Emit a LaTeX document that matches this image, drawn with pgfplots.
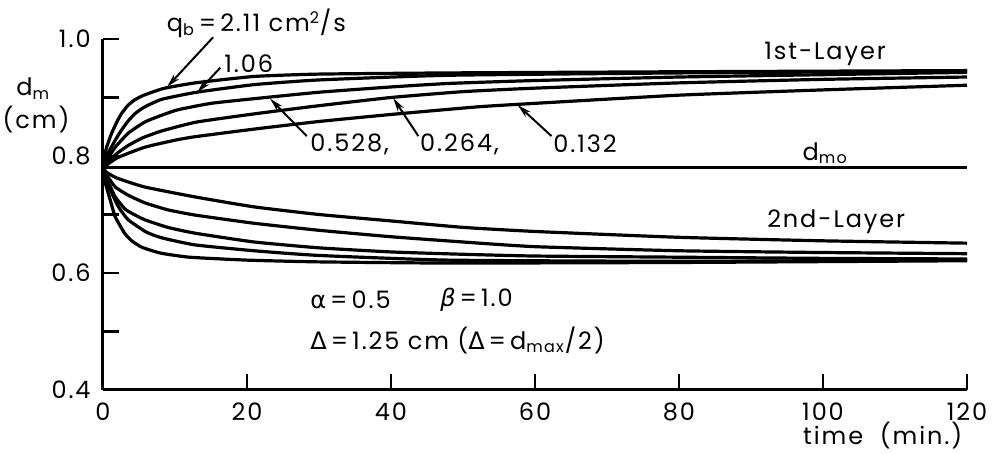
\documentclass[border=0pt]{standalone}
\usepackage{pgfplots}
\pgfplotsset{compat=1.18}
\usepackage{pgfplotstable}
\usepackage{fontspec}
\setmainfont{Poppins}[LetterSpace=8]
\newfontfamily\greek{DejaVu Sans}
\usetikzlibrary{arrows.meta}

\pgfplotstableread{
t d
0 0.78
0.2 0.798
0.5 0.815
1.2 0.839
2 0.860
2.6 0.873
3.5 0.887
4.4 0.896
5.5 0.903
6.8 0.909
8.6 0.916
12.8 0.925
21 0.936
30 0.940
48 0.942
80 0.944
120 0.946
}\Uone
\pgfplotstableread{
t d
0 0.78
0.5 0.800
1.7 0.827
2.5 0.843
3.5 0.860
4.5 0.873
5.8 0.884
8.2 0.897
13 0.909
21 0.922
30 0.930
48 0.938
80 0.942
120 0.945
}\Utwo
\pgfplotstableread{
t d
0 0.78
0.5 0.792
1.7 0.815
3.5 0.839
5.8 0.858
8 0.869
10.4 0.879
15 0.890
21 0.898
30 0.909
40 0.918
48 0.924
60 0.929
80 0.935
100 0.939
120 0.943
}\Uthree
\pgfplotstableread{
t d
0 0.78
1 0.794
2 0.805
3.5 0.818
5.5 0.831
8.2 0.843
13 0.858
21 0.872
30 0.886
40 0.900
50 0.910
60 0.916
80 0.925
100 0.931
120 0.935
}\Ufour
\pgfplotstableread{
t d
0 0.78
2 0.797
5.8 0.815
10 0.827
12.8 0.833
21 0.846
30 0.859
40 0.871
52 0.884
60 0.890
80 0.904
100 0.913
120 0.921
}\Ufive
\pgfplotstableread{
t d
0 0.78
0.5 0.772
2 0.762
5.8 0.747
12.8 0.730
21 0.713
30 0.700
40 0.689
50 0.678
60 0.671
80 0.661
100 0.655
120 0.651
}\Lfive
\pgfplotstableread{
t d
0 0.78
0.5 0.768
1.7 0.747
3.5 0.733
5.8 0.720
9 0.708
12.8 0.699
21 0.685
30 0.673
40 0.662
50 0.653
60 0.645
80 0.638
100 0.635
120 0.633
}\Lfour
\pgfplotstableread{
t d
0 0.78
0.5 0.760
1 0.748
1.7 0.730
3 0.710
4 0.702
5.8 0.691
9 0.678
12.8 0.668
21 0.653
30 0.643
40 0.636
50 0.632
60 0.629
80 0.627
100 0.625
120 0.624
}\Lthree
\pgfplotstableread{
t d
0 0.78
0.4 0.760
1.2 0.737
2.2 0.712
3.5 0.691
6 0.670
8.2 0.660
12.8 0.648
21 0.638
30 0.630
48 0.622
80 0.620
120 0.622
}\Ltwo
\pgfplotstableread{
t d
0 0.78
0.3 0.755
1 0.725
1.7 0.696
3 0.668
4 0.655
5.4 0.644
8 0.634
12 0.627
20 0.622
30 0.619
48 0.617
80 0.618
120 0.621
}\Lone

\begin{document}
\fontsize{12}{14}\selectfont
\begin{tikzpicture}
\useasboundingbox (-51.5pt,-32pt) rectangle (451pt,195pt);
\begin{axis}[
  at={(0,0)}, anchor=south west,
  scale only axis, width=432pt, height=175.5pt,
  xmin=0, xmax=120, ymin=0.4, ymax=1.0,
  axis x line=bottom, axis y line=left,
  axis line style={-, line width=1.5pt},
  xtick={0,20,40,60,80,100,120},
  ytick={0.4,0.6,0.8,1.0},
  minor ytick={0.5,0.7,0.9},
  tick align=inside,
  major tick length=8pt, minor tick length=8pt,
  every tick/.style={black, line width=1.2pt},
  /pgf/number format/assume math mode=true,
  yticklabel style={/pgf/number format/fixed, /pgf/number format/fixed zerofill, /pgf/number format/precision=1, xshift=-2pt},
  xticklabel style={yshift=-2pt},
  clip=false,
  cv/.style={black, solid, no markers, line width=1.6pt, smooth, tension=0.3},
]
\addplot[cv] table {\Uone};
\addplot[cv] table {\Utwo};
\addplot[cv] table {\Uthree};
\addplot[cv] table {\Ufour};
\addplot[cv] table {\Ufive};
\addplot[cv] coordinates {(0,0.78) (120,0.78)};
\addplot[cv] table {\Lone};
\addplot[cv] table {\Ltwo};
\addplot[cv] table {\Lthree};
\addplot[cv] table {\Lfour};
\addplot[cv] table {\Lfive};

\tikzset{ann/.style={-{Stealth[length=7pt,width=3.5pt]}, line width=1pt}}
\node at (axis cs:21.3,1.026) {q\textsubscript{b}\,=\,2.11 cm\textsuperscript{2}/s};
\draw[ann] (axis cs:15.3,1.003) -- (axis cs:8.9,0.918);
\node[anchor=west, inner sep=0pt] at (axis cs:16.8,0.957) {1.06};
\draw[ann] (axis cs:16.3,0.951) -- (axis cs:13.1,0.909);
\node[anchor=west, inner sep=0pt] at (axis cs:28.75,0.8205) {0.528,};
\draw[ann] (axis cs:28.3,0.834) -- (axis cs:23.2,0.898);
\node[anchor=west, inner sep=0pt] at (axis cs:44,0.8205) {0.264,};
\draw[ann] (axis cs:43.8,0.834) -- (axis cs:40.3,0.899);
\node[anchor=west, inner sep=0pt] at (axis cs:62.5,0.8205) {0.132};
\draw[ann] (axis cs:62.3,0.834) -- (axis cs:57.6,0.887);
\node[anchor=west, inner sep=0pt] at (axis cs:91.8,0.974) {1st-Layer};
\node[anchor=west, inner sep=0pt] at (axis cs:97.1,0.805) {d\textsubscript{mo}};
\node[anchor=west, inner sep=0pt] at (axis cs:92.2,0.687) {2nd-Layer};
\node[anchor=west, inner sep=0pt] at (axis cs:28.75,0.554) {{\greek α}\,=\,0.5};
\node[anchor=west, inner sep=0pt] at (axis cs:46.8,0.554) {{\greek\itshape β}\,=\,1.0};
\node[anchor=west, inner sep=0pt] at (axis cs:28.75,0.485) {{\greek Δ}\,=\,1.25 cm ({\greek Δ}\,=\,d\textsubscript{max}/2)};
\node[inner sep=1pt] at (axis cs:108.3,0.322) {time\ \ (min.)};
\node at (axis cs:-9.7,0.915) {d\textsubscript{m}};
\node at (axis cs:-9.3,0.862) {(cm)};
\end{axis}
\end{tikzpicture}
\end{document}
